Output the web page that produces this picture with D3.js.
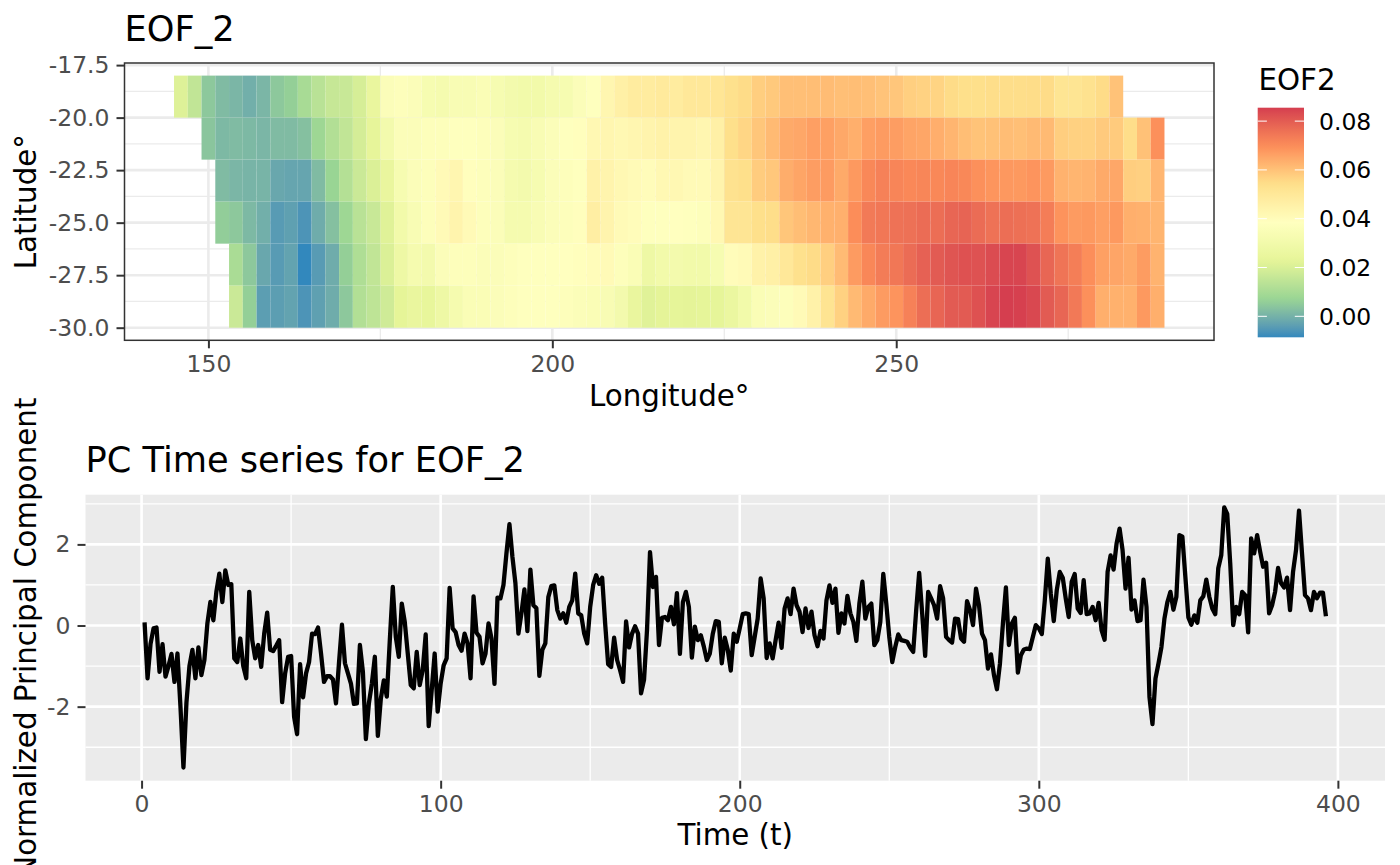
<!DOCTYPE html>
<html><head><meta charset="utf-8">
<script src="https://cdn.jsdelivr.net/npm/d3@7"></script>
<style>
html,body{margin:0;padding:0;background:#fff}
svg{display:block}
text{font-family:"DejaVu Sans",sans-serif}
</style></head><body><svg id="c" width="1400" height="865"></svg>
<script>
// ---- heat-map data -------------------------------------------------
const lat19first = 146, lat21first = 150, lat23first = 152, lat25first = 152, lat27first = 154, lat29first = 154;
const lat19 = [.021,.015,.0045,.002,.001,-.0005,.001,.0045,.006,.010,.0135,.016,.0165,.0195,.025,.036,.037,.036,.033,.032,.034,.034,.035,.033,.031,.030,.030,.032,.033,.036,.038,.043,.046,.048,.048,.049,.048,.050,.050,.051,.0535,.055,.0577,.0586,.0605,.0605,.0607,.0611,.0605,.0607,.0605,.0597,.0591,.0575,.0568,.0564,.055,.0541,.054,.0545,.0545,.0545,.0547,.055,.0516,.0516,.053,.055,.060];
const lat21 = [.004,.0015,.002,.0015,.001,.002,.002,.003,.008,.012,.015,.019,.0235,.031,.036,.036,.037,.037,.038,.038,.037,.036,.033,.032,.034,.036,.038,.039,.042,.043,.042,.043,.044,.045,.044,.044,.043,.046,.054,.056,.0592,.0615,.0645,.065,.0666,.0664,.0648,.0636,.0666,.0673,.0669,.0656,.0652,.0638,.0625,.0607,.0598,.0601,.061,.0605,.0615,.0615,.0577,.0571,.0571,.0585,.0583,.0545,.0601,.0692];
const lat23 = [.002,.001,.0005,.0005,-.002,-.0025,-.0025,.002,.007,.0125,.017,.0205,.025,.033,.036,.037,.041,.043,.039,.037,.036,.032,.031,.033,.036,.037,.038,.045,.044,.042,.041,.040,.042,.042,.041,.041,.044,.053,.054,.058,.059,.064,.0655,.067,.0673,.0645,.0677,.071,.0725,.0716,.0708,.0714,.071,.0716,.071,.0692,.0684,.0678,.0677,.0686,.0675,.0631,.0624,.0628,.0645,.065,.0577,.0573,.0622];
const lat25 = [.0055,.0045,.0015,-.0005,-.0045,-.0035,-.006,-.001,.003,.008,.0135,.0165,.0215,.030,.034,.037,.041,.044,.041,.037,.036,.032,.032,.034,.036,.037,.039,.047,.044,.041,.040,.038,.038,.0385,.038,.037,.042,.0515,.0515,.054,.0545,.0592,.0607,.062,.0632,.0634,.0698,.074,.0745,.0756,.0758,.0768,.0764,.078,.0785,.0768,.0756,.0764,.076,.0756,.0732,.0688,.0673,.0677,.0666,.0677,.0636,.0632,.0624];
const lat27 = [.0105,.0045,-.002,-.0045,-.003,-.0086,-.0045,-.001,.006,.0115,.015,.0205,.028,.032,.031,.036,.037,.037,.036,.036,.037,.038,.038,.038,.0385,.039,.040,.041,.037,.035,.028,.030,.031,.030,.030,.033,.040,.041,.045,.046,.050,.0535,.055,.0575,.0613,.0673,.0712,.0735,.0745,.0768,.079,.0803,.0815,.0821,.082,.083,.0843,.0843,.082,.078,.0752,.073,.0696,.0664,.0654,.0645,.0671,.0628];
const lat29 = [.017,.006,-.004,-.004,-.003,-.006,-.0035,-.001,.0045,.012,.0145,.018,.0228,.025,.024,.028,.032,.035,.035,.036,.037,.038,.038,.038,.037,.036,.035,.034,.031,.025,.0215,.0225,.023,.0225,.023,.023,.026,.030,.035,.036,.037,.041,.045,.052,.0571,.0615,.0645,.0673,.0685,.0725,.0764,.0782,.0803,.0803,.0821,.0843,.0855,.0851,.0838,.0803,.078,.0741,.0692,.0636,.0632,.0632,.0677,.0636];
const lonStep = 2, latStep = 2;
const lonTicks = [150,200,250], lonMinor = [175,225,275];
const latTicks = [-17.5,-20,-22.5,-25,-27.5,-30], latMinor = [-18.75,-21.25,-23.75,-26.25,-28.75];
const fillMin = -0.0086, fillMax = 0.0855;
const fillColors = ["#3288bd","#99d594","#e6f598","#ffffbf","#fee08b","#fc8d59","#d53e4f"];
const legendTicks = [0,0.02,0.04,0.06,0.08];
// ---- PC series data --------------------------------------------------
const pcValues = [
.08,-1.3,-.45,-.07,-.05,-1.14,-.46,-1.26,-1.0,-.7,
-1.39,-.69,-2.0,-3.5,-1.9,-1.0,-.6,-1.3,-.54,-1.22,
-.85,.05,.58,.13,.83,1.28,.58,1.36,1.0,1.02,
-.81,-.9,-.32,-1.0,-1.3,.83,-.36,-.81,-.48,-1.02,
-.2,.32,-.6,-.63,-.5,-.36,-1.89,-1.18,-.77,-.75,
-2.25,-2.68,-.95,-1.77,-1.18,-.9,-.2,-.21,-.05,-.69,
-1.39,-1.25,-1.25,-1.33,-1.92,-.93,.02,-.93,-1.18,-1.43,
-1.93,-1.92,-.48,-1.14,-2.8,-1.92,-1.43,-.77,-2.72,-1.8,
-1.35,-1.75,-.36,.95,-.28,-.77,.54,.09,-.69,-1.47,
-1.55,-.65,-1.47,-1.1,-.22,-2.48,-1.6,-.69,-2.12,-1.43,
-.98,-.81,.93,-.07,-.16,-.48,-.62,-.2,-.44,-1.3,
.72,-.18,-.28,-.93,-.69,.05,-.32,-1.44,.69,.67,
1.0,1.78,2.5,1.69,1.04,-.2,.3,.89,-.14,1.38,
.5,.43,-1.24,-.6,-.44,.7,.97,.99,.38,.17,
.3,.07,.46,.62,1.28,.3,.25,-.2,-.44,.46,
1.0,1.24,1.03,1.18,.05,-.95,-1.02,-.3,-.85,-1.1,
-1.39,.1,-.54,-.2,-.02,-.2,-1.67,-1.34,-.11,1.81,
.95,1.2,-.48,.19,.21,.13,.46,.03,.8,-.7,
.58,.83,.46,-.79,-.03,-.36,-.24,-.52,-.85,-.69,
-.2,.11,.09,-.93,-.3,-.6,-1.11,-.2,-.4,-.07,
.28,.3,.28,-.73,-.28,.17,1.16,.67,-.8,-.44,
-.81,-.36,.07,-.55,.42,.67,.28,.91,.5,.34,
-.16,.42,-.06,.34,-.24,-.51,-.13,-.32,.62,.99,
.56,.91,-.18,.3,.05,.73,.3,.09,-.38,.54,
1.08,.17,.46,.54,-.48,-.36,.09,1.27,.54,-.28,
-.9,-.53,-.22,-.36,-.38,-.4,-.54,-.65,.38,1.3,
.3,-.75,.83,.67,.5,.17,.97,.67,-.28,-.36,
-.42,.17,.16,-.32,-.4,.6,.38,.01,.91,.5,
-.2,-.36,-1.06,-.71,-1.22,-1.57,-.94,.05,.94,-.48,
.05,.19,-1.16,-.73,-.59,-.57,-.58,-.28,.01,-.07,
-.21,.62,1.65,.79,.11,.87,1.32,1.18,.67,.21,
1.08,1.27,.42,.31,1.12,.28,.3,.46,.13,.56,
-.12,-.35,1.32,1.73,1.38,2.02,2.39,1.86,.91,1.67,
.39,.62,.11,.13,1.13,.46,-1.76,-2.43,-1.31,-.94,
-.53,.17,.58,.83,.39,.71,2.23,2.19,1.2,.2,
.02,.25,.07,.62,.72,1.13,.71,.42,.28,1.41,
1.73,2.91,2.75,1.53,.01,.46,.28,.83,.75,-.17,
2.15,1.78,2.23,1.82,1.45,1.55,.3,.5,.83,1.42,
1.04,.94,1.18,.38,1.32,1.86,2.83,1.78,.75,.67,
.38,.83,.67,.81,.81,.23];
const timeTicks = [0,100,200,300,400], timeMinor = [50,150,250,350];
const pcTicks = [-2,0,2], pcMinor = [-3,-1,1,3];

// ---- layout ----------------------------------------------------------
const svg = d3.select("#c");
const FONT_TICK = 23.47, FONT_LAB = 29.33, FONT_TITLE = 35.2;
const TICK_LEN = 8, TICK_PAD = 7;
const A = {l:124.5, r:1214, t:63, b:340.3};
const B = {l:85.5, r:1385, t:494.7, b:780.7};
const LEG = {l:1257.7, r:1304, t:107.7, b:337.3};

const hx = d3.scaleLinear().domain([137.8,296.2]).range([A.l,A.r]);
const hy = d3.scaleLinear().domain([-30.6,-17.4]).range([A.b,A.t]);
const px = d3.scaleLinear().domain([-18.75,415.75]).range([B.l,B.r]);
const py = d3.scaleLinear().domain([-3.825,3.225]).range([B.b,B.t]);
const fillStops = fillColors.map((_,i)=>fillMin+(fillMax-fillMin)*i/(fillColors.length-1));
const fill = d3.scaleLinear().domain(fillStops).range(fillColors).interpolate(d3.interpolateLab);

function grid(g, scale, vals, horiz, box, color, w){
  g.selectAll(null).data(vals).join("line")
    .attr("x1",d=>horiz?box.l:scale(d)).attr("x2",d=>horiz?box.r:scale(d))
    .attr("y1",d=>horiz?scale(d):box.t).attr("y2",d=>horiz?scale(d):box.b)
    .attr("stroke",color).attr("stroke-width",w);
}
function styleAxis(g){
  g.select(".domain").remove();
  g.selectAll(".tick line").attr("stroke","#333").attr("stroke-width",2);
  g.selectAll(".tick text").attr("fill","#4d4d4d").style("font-size",FONT_TICK+"px")
    .style("font-family",'"DejaVu Sans",sans-serif');
}

// --- panel A
const pa = svg.append("g");
pa.append("rect").attr("x",A.l).attr("y",A.t).attr("width",A.r-A.l).attr("height",A.b-A.t).attr("fill","#fff");
grid(pa,hx,lonMinor,false,A,"#ebebeb",1.3);
grid(pa,hy,latMinor,true,A,"#ebebeb",1.3);
grid(pa,hx,lonTicks,false,A,"#ebebeb",2.6);
grid(pa,hy,latTicks,true,A,"#ebebeb",2.6);
const rows = [[-19,lat19first,lat19],[-21,lat21first,lat21],[-23,lat23first,lat23],[-25,lat25first,lat25],[-27,lat27first,lat27],[-29,lat29first,lat29]];
rows.forEach(([lat,first,vals])=>{
  pa.append("g").selectAll("rect").data(vals).join("rect")
    .attr("x",(d,i)=>hx(first+i*lonStep-lonStep/2))
    .attr("width",hx(lonStep)-hx(0))
    .attr("y",hy(lat+latStep/2))
    .attr("height",hy(0)-hy(latStep))
    .attr("fill",d=>fill(d));
});
pa.append("rect").attr("x",A.l).attr("y",A.t).attr("width",A.r-A.l).attr("height",A.b-A.t)
  .attr("fill","none").attr("stroke","#333").attr("stroke-width",1.5);

const hfmt = d3.format(".1f");
styleAxis(svg.append("g").attr("transform",`translate(0,${A.b})`)
  .call(d3.axisBottom(hx).tickValues(lonTicks).tickSize(TICK_LEN).tickPadding(TICK_PAD).tickFormat(d3.format("d"))));
styleAxis(svg.append("g").attr("transform",`translate(${A.l},0)`)
  .call(d3.axisLeft(hy).tickValues(latTicks).tickSize(TICK_LEN).tickPadding(TICK_PAD).tickFormat(d=>hfmt(d).replace("\u2212","-"))));

// --- panel B
const pb = svg.append("g");
pb.append("rect").attr("x",B.l).attr("y",B.t).attr("width",B.r-B.l).attr("height",B.b-B.t).attr("fill","#ebebeb");
grid(pb,px,timeMinor,false,B,"#fff",1.3);
grid(pb,py,pcMinor,true,B,"#fff",1.3);
grid(pb,px,timeTicks,false,B,"#fff",2.6);
grid(pb,py,pcTicks,true,B,"#fff",2.6);
const line = d3.line().x((d,i)=>px(i+1)).y(d=>py(d));
pb.append("path").attr("d",line(pcValues)).attr("fill","none").attr("stroke","#000")
  .attr("stroke-width",4.3).attr("stroke-linejoin","round").attr("stroke-linecap","butt");
styleAxis(svg.append("g").attr("transform",`translate(0,${B.b})`)
  .call(d3.axisBottom(px).tickValues(timeTicks).tickSize(TICK_LEN).tickPadding(TICK_PAD).tickFormat(d3.format("d"))));
styleAxis(svg.append("g").attr("transform",`translate(${B.l},0)`)
  .call(d3.axisLeft(py).tickValues(pcTicks).tickSize(TICK_LEN).tickPadding(TICK_PAD).tickFormat(d=>String(d))));

// --- titles and labels
function label(t,x,y,size,opts={}){
  const e = svg.append("text").attr("x",x).attr("y",y).attr("fill","#000").style("font-size",size+"px")
    .attr("text-anchor",opts.anchor||"start").text(t);
  if(opts.rotate) e.attr("transform",`rotate(-90 ${x} ${y})`);
  return e;
}
label("EOF_2",A.l,41,FONT_TITLE);
label("PC Time series for EOF_2",B.l,472.3,FONT_TITLE);
label("Longitude\u00b0",(A.l+A.r)/2,406,FONT_LAB,{anchor:"middle"});
label("Time (t)",(B.l+B.r)/2,844.5,FONT_LAB,{anchor:"middle"});
label("Latitude\u00b0",36,(A.t+A.b)/2,FONT_LAB,{anchor:"middle",rotate:true});
label("Normalized Principal Component",36,(B.t+B.b)/2,FONT_LAB,{anchor:"middle",rotate:true});

// --- legend
const ly = d3.scaleLinear().domain([fillMin,fillMax]).range([LEG.b,LEG.t]);
const defs = svg.append("defs");
const grad = defs.append("linearGradient").attr("id","lg").attr("x1",0).attr("x2",0).attr("y1",1).attr("y2",0);
d3.range(0,41).forEach(i=>{
  const v = fillMin+(fillMax-fillMin)*i/40;
  grad.append("stop").attr("offset",(i/40*100)+"%").attr("stop-color",fill(v));
});
svg.append("rect").attr("x",LEG.l).attr("y",LEG.t).attr("width",LEG.r-LEG.l).attr("height",LEG.b-LEG.t).attr("fill","url(#lg)");
const lt = svg.append("g");
lt.selectAll(null).data(legendTicks).join("line").attr("x1",LEG.l).attr("x2",LEG.l+9.2).attr("y1",d=>ly(d)).attr("y2",d=>ly(d)).attr("stroke","#fff").attr("stroke-width",1);
lt.selectAll(null).data(legendTicks).join("line").attr("x1",LEG.r-9.2).attr("x2",LEG.r).attr("y1",d=>ly(d)).attr("y2",d=>ly(d)).attr("stroke","#fff").attr("stroke-width",1);
lt.selectAll(null).data(legendTicks).join("text").attr("x",1319).attr("y",d=>ly(d)).attr("dy","0.36em")
  .style("font-size",FONT_TICK+"px").attr("fill","#000").text(d=>d3.format(".2f")(d));
label("EOF2",1258.5,90,FONT_LAB);
</script></body></html>
